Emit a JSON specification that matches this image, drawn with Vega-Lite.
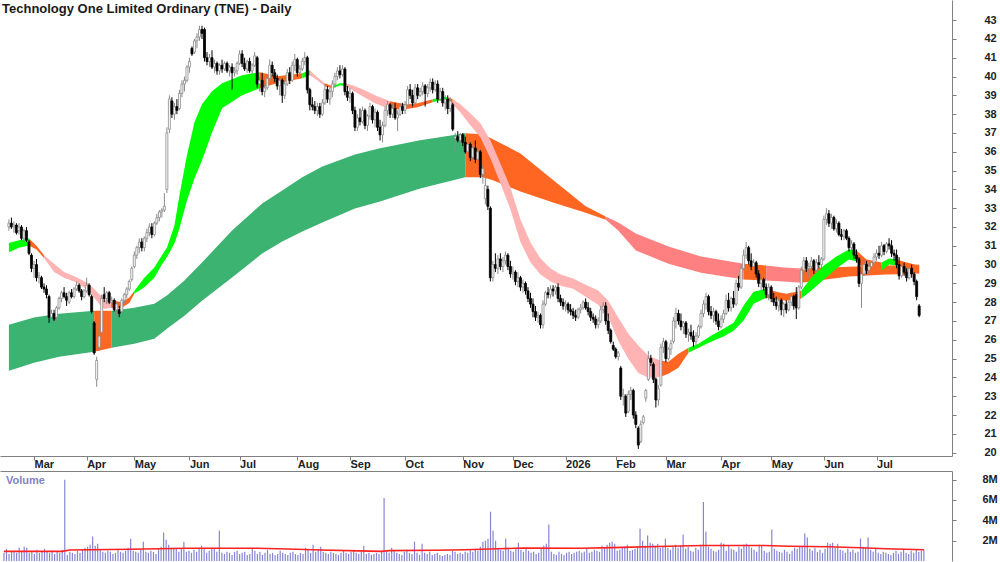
{
"$schema":"https://vega.github.io/schema/vega-lite/v6.json",
"padding":0,
"spacing":15,
"bounds":"flush",
"config":{"view":{"stroke":null},"font":"Liberation Sans","axis":{"labelFont":"Liberation Sans","labelFontSize":11,"labelFontWeight":"bold","labelColor":"#222222","domainColor":"#808080","tickColor":"#808080","grid":false}},
"datasets":{
"candles":[
{"i":0,"o":32.0,"h":32.4,"l":31.8,"c":32.2,"v":0.8},{"i":1,"o":32.2,"h":32.5,"l":31.9,"c":32.0,"v":1.2},{"i":2,"o":32.0,"h":32.3,"l":31.7,"c":32.1,"v":0.7},{"i":3,"o":32.1,"h":32.2,"l":31.6,"c":31.7,"v":0.9},{"i":4,"o":31.8,"h":32.2,"l":31.6,"c":32.0,"v":1.0},
{"i":5,"o":32.0,"h":32.1,"l":31.3,"c":31.4,"v":0.8},{"i":6,"o":31.4,"h":31.9,"l":31.2,"c":31.8,"v":1.3},{"i":7,"o":31.8,"h":32.0,"l":31.2,"c":31.3,"v":0.9},{"i":8,"o":31.2,"h":31.3,"l":30.5,"c":30.6,"v":1.4},{"i":9,"o":30.5,"h":30.6,"l":29.6,"c":29.8,"v":1.3},
{"i":10,"o":29.8,"h":30.2,"l":29.3,"c":30.0,"v":0.8},{"i":11,"o":30.0,"h":30.3,"l":29.1,"c":29.3,"v":1.0},{"i":12,"o":29.3,"h":29.6,"l":29.0,"c":29.4,"v":0.7},{"i":13,"o":29.3,"h":29.4,"l":28.7,"c":28.8,"v":1.1},{"i":14,"o":28.8,"h":29.0,"l":28.5,"c":28.7,"v":0.8},
{"i":15,"o":28.7,"h":28.9,"l":28.2,"c":28.4,"v":0.9},{"i":16,"o":28.3,"h":28.4,"l":26.9,"c":27.2,"v":1.2},{"i":17,"o":27.2,"h":27.6,"l":26.9,"c":27.4,"v":0.9},{"i":18,"o":27.4,"h":27.6,"l":27.0,"c":27.1,"v":0.8},{"i":19,"o":27.2,"h":27.8,"l":27.0,"c":27.7,"v":1.0},
{"i":20,"o":27.7,"h":28.3,"l":27.6,"c":28.2,"v":0.7},{"i":21,"o":28.2,"h":28.6,"l":28.0,"c":28.5,"v":0.9},{"i":22,"o":28.5,"h":28.8,"l":28.2,"c":28.3,"v":0.8},{"i":23,"o":28.3,"h":28.5,"l":27.8,"c":28.1,"v":1.1},{"i":24,"o":28.0,"h":28.6,"l":27.9,"c":28.5,"v":8.0},
{"i":25,"o":28.5,"h":28.7,"l":28.2,"c":28.3,"v":0.6},{"i":26,"o":28.3,"h":28.8,"l":28.2,"c":28.7,"v":0.9},{"i":27,"o":28.7,"h":29.1,"l":28.6,"c":28.9,"v":0.8},{"i":28,"o":28.9,"h":29.0,"l":28.5,"c":28.6,"v":0.7},{"i":29,"o":28.6,"h":28.7,"l":28.1,"c":28.3,"v":1.0},
{"i":30,"o":28.3,"h":28.7,"l":28.2,"c":28.6,"v":0.8},{"i":31,"o":28.6,"h":29.3,"l":28.5,"c":28.9,"v":1.1},{"i":32,"o":28.9,"h":29.0,"l":28.3,"c":28.4,"v":1.3},{"i":33,"o":28.3,"h":28.4,"l":27.4,"c":27.5,"v":1.4},{"i":34,"o":26.9,"h":27.0,"l":25.2,"c":25.3,"v":1.6},
{"i":35,"o":23.9,"h":25.1,"l":23.5,"c":24.9,"v":2.4},{"i":36,"o":25.6,"h":26.9,"l":25.4,"c":26.2,"v":1.5},{"i":37,"o":26.4,"h":28.4,"l":26.2,"c":28.2,"v":1.7},{"i":38,"o":28.4,"h":28.8,"l":28.0,"c":28.2,"v":1.1},{"i":39,"o":28.2,"h":28.6,"l":27.9,"c":28.5,"v":0.9},
{"i":40,"o":28.5,"h":28.6,"l":27.9,"c":28.0,"v":0.8},{"i":41,"o":28.0,"h":28.3,"l":27.7,"c":28.1,"v":1.0},{"i":42,"o":28.1,"h":28.2,"l":27.5,"c":27.6,"v":0.9},{"i":43,"o":27.6,"h":28.0,"l":27.3,"c":27.9,"v":0.7},{"i":44,"o":27.6,"h":27.8,"l":27.2,"c":27.4,"v":0.8},
{"i":45,"o":27.5,"h":28.2,"l":27.4,"c":28.1,"v":1.2},{"i":46,"o":28.1,"h":28.5,"l":27.9,"c":28.4,"v":0.9},{"i":47,"o":28.4,"h":28.8,"l":28.2,"c":28.7,"v":0.8},{"i":48,"o":28.7,"h":29.2,"l":28.6,"c":29.1,"v":1.0},{"i":49,"o":29.2,"h":29.9,"l":29.1,"c":29.8,"v":1.3},
{"i":50,"o":29.9,"h":30.7,"l":29.8,"c":30.5,"v":2.2},{"i":51,"o":30.5,"h":31.0,"l":30.3,"c":30.9,"v":1.0},{"i":52,"o":30.9,"h":31.4,"l":30.6,"c":31.2,"v":0.9},{"i":53,"o":31.2,"h":31.4,"l":30.7,"c":30.9,"v":0.8},{"i":54,"o":30.9,"h":31.5,"l":30.7,"c":31.4,"v":1.1},
{"i":55,"o":31.4,"h":31.9,"l":31.2,"c":31.7,"v":1.9},{"i":56,"o":31.7,"h":32.2,"l":31.5,"c":32.0,"v":0.9},{"i":57,"o":32.0,"h":32.2,"l":31.4,"c":31.6,"v":0.8},{"i":58,"o":31.6,"h":32.3,"l":31.5,"c":32.2,"v":1.0},{"i":59,"o":32.2,"h":32.7,"l":32.1,"c":32.5,"v":0.9},
{"i":60,"o":32.5,"h":32.9,"l":32.3,"c":32.8,"v":0.7},{"i":61,"o":32.8,"h":33.0,"l":32.5,"c":32.9,"v":1.2},{"i":62,"o":32.9,"h":33.8,"l":32.8,"c":33.1,"v":1.4},{"i":63,"o":34.0,"h":37.3,"l":33.8,"c":37.0,"v":2.8},{"i":64,"o":37.2,"h":39.0,"l":37.0,"c":38.8,"v":2.1},
{"i":65,"o":38.7,"h":38.9,"l":37.8,"c":38.0,"v":1.6},{"i":66,"o":38.0,"h":38.6,"l":37.7,"c":38.4,"v":1.3},{"i":67,"o":38.4,"h":38.8,"l":38.0,"c":38.2,"v":1.3},{"i":68,"o":38.3,"h":39.3,"l":38.2,"c":39.1,"v":1.3},{"i":69,"o":39.1,"h":39.8,"l":38.9,"c":39.6,"v":0.9},
{"i":70,"o":39.6,"h":40.0,"l":39.2,"c":39.8,"v":1.2},{"i":71,"o":39.8,"h":40.6,"l":39.7,"c":40.5,"v":1.9},{"i":72,"o":40.5,"h":41.0,"l":40.2,"c":40.8,"v":0.9},{"i":73,"o":41.5,"h":41.6,"l":41.1,"c":41.2,"v":1.0},{"i":74,"o":41.3,"h":42.0,"l":41.2,"c":41.9,"v":0.8},
{"i":75,"o":41.9,"h":42.3,"l":41.5,"c":42.1,"v":1.1},{"i":76,"o":42.1,"h":42.7,"l":41.9,"c":42.5,"v":0.9},{"i":77,"o":42.5,"h":42.7,"l":42.0,"c":42.3,"v":1.2},{"i":78,"o":42.5,"h":42.6,"l":40.8,"c":41.0,"v":1.5},{"i":79,"o":41.0,"h":41.3,"l":40.6,"c":40.8,"v":1.3},
{"i":80,"o":40.8,"h":41.2,"l":40.5,"c":41.0,"v":0.8},{"i":81,"o":41.0,"h":41.4,"l":40.4,"c":40.5,"v":1.0},{"i":82,"o":40.5,"h":40.9,"l":40.2,"c":40.7,"v":1.3},{"i":83,"o":40.7,"h":40.8,"l":40.1,"c":40.3,"v":1.3},{"i":84,"o":40.3,"h":40.7,"l":40.1,"c":40.6,"v":0.9},
{"i":85,"o":40.6,"h":40.9,"l":40.2,"c":40.4,"v":3.0},{"i":86,"o":40.4,"h":40.8,"l":40.3,"c":40.7,"v":0.8},{"i":87,"o":40.7,"h":40.8,"l":40.2,"c":40.3,"v":0.7},{"i":88,"o":40.3,"h":40.6,"l":40.0,"c":40.5,"v":0.9},{"i":89,"o":40.5,"h":40.7,"l":39.3,"c":40.2,"v":0.8},
{"i":90,"o":40.2,"h":40.5,"l":40.0,"c":40.3,"v":0.6},{"i":91,"o":40.3,"h":40.8,"l":40.1,"c":40.7,"v":0.9},{"i":92,"o":40.7,"h":41.4,"l":40.6,"c":41.2,"v":1.0},{"i":93,"o":41.2,"h":41.4,"l":40.5,"c":40.7,"v":0.7},{"i":94,"o":40.7,"h":41.0,"l":40.3,"c":40.4,"v":0.8},
{"i":95,"o":40.4,"h":40.9,"l":40.2,"c":40.8,"v":0.9},{"i":96,"o":40.8,"h":41.0,"l":40.2,"c":40.3,"v":0.6},{"i":97,"o":40.3,"h":40.7,"l":40.1,"c":40.6,"v":0.7},{"i":98,"o":40.6,"h":41.3,"l":40.5,"c":41.1,"v":1.2},{"i":99,"o":41.0,"h":41.1,"l":39.4,"c":39.6,"v":1.0},
{"i":100,"o":39.6,"h":40.0,"l":39.2,"c":39.8,"v":0.7},{"i":101,"o":39.8,"h":40.2,"l":39.0,"c":39.2,"v":0.9},{"i":102,"o":39.2,"h":39.6,"l":38.9,"c":39.4,"v":0.6},{"i":103,"o":39.4,"h":40.0,"l":39.3,"c":39.9,"v":0.8},{"i":104,"o":39.9,"h":40.9,"l":39.8,"c":40.6,"v":1.1},
{"i":105,"o":40.6,"h":40.8,"l":40.0,"c":40.2,"v":0.7},{"i":106,"o":40.2,"h":40.4,"l":39.7,"c":39.9,"v":0.8},{"i":107,"o":39.9,"h":40.1,"l":39.3,"c":39.5,"v":0.6},{"i":108,"o":39.5,"h":40.0,"l":39.0,"c":39.8,"v":0.7},{"i":109,"o":39.8,"h":39.9,"l":38.6,"c":39.0,"v":1.0},
{"i":110,"o":39.0,"h":39.8,"l":38.8,"c":39.6,"v":0.8},{"i":111,"o":39.6,"h":40.4,"l":39.5,"c":40.2,"v":0.7},{"i":112,"o":40.2,"h":40.5,"l":39.6,"c":39.8,"v":0.6},{"i":113,"o":39.8,"h":40.8,"l":39.7,"c":40.6,"v":0.8},{"i":114,"o":40.6,"h":41.2,"l":40.3,"c":40.9,"v":0.9},
{"i":115,"o":40.9,"h":41.0,"l":40.0,"c":40.2,"v":0.7},{"i":116,"o":40.2,"h":40.6,"l":39.9,"c":40.4,"v":0.6},{"i":117,"o":40.4,"h":41.0,"l":40.3,"c":40.8,"v":0.8},{"i":118,"o":40.8,"h":41.3,"l":40.6,"c":41.0,"v":0.7},{"i":119,"o":41.0,"h":41.1,"l":39.1,"c":39.3,"v":1.3},
{"i":120,"o":39.3,"h":39.4,"l":38.2,"c":38.5,"v":1.1},{"i":121,"o":38.5,"h":38.9,"l":38.2,"c":38.4,"v":0.8},{"i":122,"o":38.4,"h":38.7,"l":38.0,"c":38.2,"v":1.6},{"i":123,"o":38.2,"h":38.6,"l":37.9,"c":38.4,"v":0.9},{"i":124,"o":38.4,"h":38.6,"l":37.8,"c":38.0,"v":1.2},
{"i":125,"o":38.0,"h":38.8,"l":37.9,"c":38.6,"v":1.4},{"i":126,"o":38.6,"h":39.6,"l":38.5,"c":39.3,"v":0.9},{"i":127,"o":39.3,"h":39.5,"l":38.6,"c":38.8,"v":0.8},{"i":128,"o":38.8,"h":39.4,"l":38.5,"c":39.2,"v":0.7},{"i":129,"o":39.2,"h":39.8,"l":38.9,"c":39.6,"v":0.9},
{"i":130,"o":39.6,"h":40.2,"l":39.4,"c":40.0,"v":0.8},{"i":131,"o":40.0,"h":40.5,"l":39.8,"c":40.3,"v":0.7},{"i":132,"o":40.3,"h":40.6,"l":39.9,"c":40.1,"v":0.6},{"i":133,"o":40.1,"h":40.6,"l":40.0,"c":40.4,"v":0.8},{"i":134,"o":40.4,"h":40.5,"l":39.0,"c":39.2,"v":1.0},
{"i":135,"o":39.2,"h":39.5,"l":38.7,"c":38.9,"v":0.8},{"i":136,"o":38.9,"h":39.4,"l":38.6,"c":39.1,"v":0.7},{"i":137,"o":39.1,"h":39.2,"l":38.0,"c":38.2,"v":0.9},{"i":138,"o":38.2,"h":38.4,"l":37.1,"c":37.3,"v":1.0},{"i":139,"o":37.3,"h":38.0,"l":37.1,"c":37.8,"v":0.8},
{"i":140,"o":37.8,"h":38.3,"l":37.4,"c":37.6,"v":0.7},{"i":141,"o":37.6,"h":38.4,"l":37.5,"c":38.2,"v":0.9},{"i":142,"o":38.2,"h":38.3,"l":37.2,"c":37.4,"v":1.5},{"i":143,"o":37.4,"h":38.0,"l":37.1,"c":37.9,"v":0.7},{"i":144,"o":37.9,"h":38.6,"l":37.7,"c":38.4,"v":0.8},
{"i":145,"o":38.4,"h":38.5,"l":37.5,"c":37.7,"v":0.6},{"i":146,"o":37.7,"h":38.3,"l":37.3,"c":38.1,"v":0.7},{"i":147,"o":38.1,"h":38.2,"l":37.1,"c":37.3,"v":0.8},{"i":148,"o":37.3,"h":37.7,"l":36.6,"c":36.9,"v":0.7},{"i":149,"o":36.9,"h":37.6,"l":36.5,"c":37.4,"v":0.9},
{"i":150,"o":37.4,"h":38.4,"l":37.3,"c":38.2,"v":6.2},{"i":151,"o":38.2,"h":38.7,"l":37.9,"c":38.5,"v":0.9},{"i":152,"o":38.5,"h":38.6,"l":37.8,"c":38.0,"v":0.8},{"i":153,"o":38.0,"h":38.5,"l":37.8,"c":38.3,"v":1.3},{"i":154,"o":38.3,"h":38.6,"l":37.7,"c":37.8,"v":1.1},
{"i":155,"o":37.8,"h":38.2,"l":37.1,"c":38.0,"v":0.8},{"i":156,"o":38.0,"h":38.6,"l":37.9,"c":38.4,"v":0.7},{"i":157,"o":38.4,"h":38.6,"l":38.0,"c":38.2,"v":0.6},{"i":158,"o":38.2,"h":38.7,"l":38.0,"c":38.5,"v":0.9},{"i":159,"o":38.5,"h":39.5,"l":38.4,"c":39.3,"v":1.1},
{"i":160,"o":39.3,"h":39.6,"l":38.8,"c":39.0,"v":0.8},{"i":161,"o":39.0,"h":39.3,"l":38.4,"c":38.6,"v":0.7},{"i":162,"o":38.6,"h":39.6,"l":38.5,"c":39.4,"v":1.9},{"i":163,"o":39.4,"h":39.6,"l":38.8,"c":39.0,"v":0.8},{"i":164,"o":39.0,"h":39.4,"l":38.9,"c":39.2,"v":0.6},
{"i":165,"o":39.2,"h":39.7,"l":39.0,"c":39.5,"v":1.7},{"i":166,"o":39.5,"h":39.6,"l":38.4,"c":39.1,"v":0.8},{"i":167,"o":39.1,"h":39.6,"l":38.9,"c":39.4,"v":0.7},{"i":168,"o":39.4,"h":39.9,"l":39.2,"c":39.7,"v":0.9},{"i":169,"o":39.7,"h":39.9,"l":39.1,"c":39.3,"v":0.6},
{"i":170,"o":39.3,"h":39.8,"l":39.2,"c":39.6,"v":0.7},{"i":171,"o":39.6,"h":39.8,"l":38.6,"c":38.8,"v":0.8},{"i":172,"o":38.8,"h":39.4,"l":38.7,"c":39.2,"v":0.6},{"i":173,"o":39.2,"h":39.4,"l":38.4,"c":38.6,"v":0.5},{"i":174,"o":38.6,"h":39.0,"l":38.2,"c":38.8,"v":0.6},
{"i":175,"o":38.8,"h":39.0,"l":38.0,"c":38.3,"v":0.7},{"i":176,"o":38.3,"h":38.9,"l":38.1,"c":38.7,"v":0.6},{"i":177,"o":38.5,"h":38.6,"l":37.1,"c":37.2,"v":1.0},{"i":178,"o":36.7,"h":37.0,"l":36.0,"c":36.8,"v":0.9},{"i":179,"o":36.8,"h":37.1,"l":36.5,"c":36.6,"v":0.7},
{"i":180,"o":36.6,"h":37.0,"l":36.4,"c":36.9,"v":0.8},{"i":181,"o":36.9,"h":37.0,"l":36.3,"c":36.5,"v":0.7},{"i":182,"o":36.5,"h":36.8,"l":35.9,"c":36.0,"v":0.9},{"i":183,"o":36.0,"h":36.6,"l":35.8,"c":36.4,"v":0.8},{"i":184,"o":36.4,"h":36.5,"l":35.5,"c":35.7,"v":1.1},
{"i":185,"o":35.7,"h":36.3,"l":35.6,"c":36.2,"v":0.9},{"i":186,"o":36.2,"h":36.6,"l":35.4,"c":35.6,"v":1.2},{"i":187,"o":35.6,"h":36.2,"l":35.5,"c":36.0,"v":1.0},{"i":188,"o":36.0,"h":36.1,"l":34.6,"c":34.8,"v":1.4},{"i":189,"o":34.8,"h":35.3,"l":34.3,"c":35.1,"v":1.9},
{"i":190,"o":33.5,"h":35.0,"l":33.2,"c":34.2,"v":2.0},{"i":191,"o":34.0,"h":34.2,"l":32.9,"c":33.1,"v":2.2},{"i":192,"o":33.0,"h":33.1,"l":29.1,"c":29.3,"v":4.85},{"i":193,"o":29.3,"h":30.2,"l":29.1,"c":30.0,"v":3.0},{"i":194,"o":30.0,"h":30.6,"l":29.6,"c":29.8,"v":2.0},
{"i":195,"o":29.8,"h":30.5,"l":29.5,"c":30.3,"v":1.3},{"i":196,"o":30.3,"h":30.6,"l":29.7,"c":29.9,"v":1.1},{"i":197,"o":29.9,"h":30.4,"l":29.6,"c":30.2,"v":1.0},{"i":198,"o":30.2,"h":30.7,"l":30.0,"c":30.5,"v":2.2},{"i":199,"o":30.5,"h":30.6,"l":29.7,"c":29.9,"v":1.2},
{"i":200,"o":29.9,"h":30.2,"l":29.3,"c":29.5,"v":1.0},{"i":201,"o":29.5,"h":29.9,"l":29.2,"c":29.6,"v":0.9},{"i":202,"o":29.6,"h":29.7,"l":28.9,"c":29.1,"v":1.3},{"i":203,"o":29.1,"h":29.6,"l":28.8,"c":29.3,"v":1.8},{"i":204,"o":29.3,"h":29.4,"l":28.6,"c":28.8,"v":1.1},
{"i":205,"o":28.8,"h":29.2,"l":28.5,"c":29.0,"v":0.9},{"i":206,"o":29.0,"h":29.1,"l":28.4,"c":28.6,"v":1.2},{"i":207,"o":28.6,"h":28.8,"l":28.0,"c":28.2,"v":1.0},{"i":208,"o":28.2,"h":28.5,"l":27.7,"c":27.9,"v":0.8},{"i":209,"o":27.9,"h":28.2,"l":27.2,"c":27.5,"v":0.9},
{"i":210,"o":27.5,"h":27.8,"l":27.0,"c":27.2,"v":0.7},{"i":211,"o":27.2,"h":27.5,"l":26.9,"c":27.3,"v":0.8},{"i":212,"o":27.3,"h":27.4,"l":26.6,"c":26.8,"v":1.2},{"i":213,"o":26.8,"h":28.1,"l":26.6,"c":27.9,"v":1.5},{"i":214,"o":27.9,"h":28.6,"l":27.8,"c":28.5,"v":1.7},
{"i":215,"o":28.5,"h":28.8,"l":28.2,"c":28.4,"v":3.6},{"i":216,"o":28.4,"h":28.9,"l":28.2,"c":28.7,"v":0.9},{"i":217,"o":28.7,"h":28.9,"l":28.3,"c":28.6,"v":0.7},{"i":218,"o":28.6,"h":28.9,"l":28.4,"c":28.8,"v":0.6},{"i":219,"o":28.8,"h":29.0,"l":28.0,"c":28.2,"v":0.9},
{"i":220,"o":28.2,"h":28.4,"l":27.8,"c":28.0,"v":0.7},{"i":221,"o":28.0,"h":28.2,"l":27.6,"c":27.8,"v":0.6},{"i":222,"o":27.8,"h":28.1,"l":27.5,"c":27.9,"v":0.8},{"i":223,"o":27.9,"h":28.0,"l":27.4,"c":27.6,"v":0.9},{"i":224,"o":27.6,"h":27.9,"l":27.3,"c":27.5,"v":0.7},
{"i":225,"o":27.5,"h":27.7,"l":27.1,"c":27.3,"v":0.8},{"i":226,"o":27.3,"h":27.6,"l":27.0,"c":27.2,"v":0.9},{"i":227,"o":27.2,"h":27.7,"l":27.1,"c":27.6,"v":1.0},{"i":228,"o":27.6,"h":27.9,"l":27.4,"c":27.7,"v":0.8},{"i":229,"o":27.7,"h":28.1,"l":27.6,"c":28.0,"v":0.9},
{"i":230,"o":28.0,"h":28.2,"l":27.6,"c":27.7,"v":1.2},{"i":231,"o":27.7,"h":28.0,"l":27.3,"c":27.5,"v":0.8},{"i":232,"o":27.5,"h":27.7,"l":27.0,"c":27.2,"v":0.9},{"i":233,"o":27.2,"h":27.4,"l":26.9,"c":27.1,"v":1.1},{"i":234,"o":27.1,"h":27.3,"l":26.6,"c":26.8,"v":1.0},
{"i":235,"o":26.8,"h":27.2,"l":26.6,"c":27.0,"v":0.9},{"i":236,"o":27.0,"h":27.8,"l":26.9,"c":27.6,"v":1.5},{"i":237,"o":27.6,"h":28.0,"l":27.4,"c":27.8,"v":1.3},{"i":238,"o":27.8,"h":28.0,"l":26.8,"c":27.0,"v":1.6},{"i":239,"o":27.0,"h":27.4,"l":26.3,"c":26.5,"v":1.8},
{"i":240,"o":26.5,"h":26.6,"l":25.8,"c":25.9,"v":1.9},{"i":241,"o":25.7,"h":25.9,"l":25.4,"c":25.5,"v":1.7},{"i":242,"o":25.5,"h":25.6,"l":25.0,"c":25.1,"v":1.0},{"i":243,"o":25.1,"h":25.4,"l":24.9,"c":25.3,"v":1.1},{"i":244,"o":24.5,"h":24.6,"l":22.8,"c":23.0,"v":1.3},
{"i":245,"o":23.0,"h":23.4,"l":22.5,"c":23.1,"v":1.4},{"i":246,"o":23.0,"h":23.1,"l":21.9,"c":22.1,"v":1.6},{"i":247,"o":22.2,"h":23.3,"l":22.1,"c":23.1,"v":1.0},{"i":248,"o":23.1,"h":23.5,"l":22.8,"c":23.3,"v":1.1},{"i":249,"o":23.3,"h":23.4,"l":21.8,"c":22.0,"v":1.2},
{"i":250,"o":22.0,"h":22.2,"l":21.3,"c":21.5,"v":1.4},{"i":251,"o":21.3,"h":21.4,"l":20.2,"c":20.4,"v":3.2},{"i":252,"o":20.6,"h":21.7,"l":20.5,"c":21.5,"v":2.0},{"i":253,"o":21.6,"h":22.0,"l":21.5,"c":21.9,"v":1.5},{"i":254,"o":22.9,"h":23.4,"l":22.7,"c":23.3,"v":2.5},
{"i":255,"o":23.9,"h":25.4,"l":23.8,"c":25.0,"v":1.8},{"i":256,"o":25.0,"h":25.2,"l":24.6,"c":24.8,"v":1.7},{"i":257,"o":24.7,"h":24.8,"l":23.7,"c":23.9,"v":1.5},{"i":258,"o":23.9,"h":24.0,"l":22.4,"c":22.8,"v":1.7},{"i":259,"o":22.8,"h":23.6,"l":22.5,"c":23.4,"v":1.3},
{"i":260,"o":23.6,"h":25.8,"l":23.5,"c":25.6,"v":1.4},{"i":261,"o":25.6,"h":26.1,"l":25.3,"c":25.9,"v":2.2},{"i":262,"o":25.9,"h":26.0,"l":24.8,"c":25.0,"v":1.3},{"i":263,"o":25.0,"h":25.6,"l":24.9,"c":25.5,"v":1.1},{"i":264,"o":25.5,"h":26.0,"l":25.2,"c":25.8,"v":1.4},
{"i":265,"o":25.9,"h":27.2,"l":25.8,"c":27.0,"v":1.6},{"i":266,"o":27.0,"h":27.7,"l":26.6,"c":27.4,"v":1.3},{"i":267,"o":27.4,"h":27.6,"l":26.8,"c":27.0,"v":1.5},{"i":268,"o":27.0,"h":27.4,"l":26.5,"c":26.7,"v":2.6},{"i":269,"o":26.7,"h":27.0,"l":26.3,"c":26.9,"v":1.2},
{"i":270,"o":26.9,"h":27.0,"l":26.1,"c":26.3,"v":1.4},{"i":271,"o":26.3,"h":26.6,"l":25.9,"c":26.4,"v":1.0},{"i":272,"o":26.4,"h":26.8,"l":26.0,"c":26.2,"v":0.9},{"i":273,"o":26.2,"h":26.5,"l":25.6,"c":25.9,"v":1.3},{"i":274,"o":25.9,"h":26.4,"l":25.7,"c":26.2,"v":1.1},
{"i":275,"o":26.2,"h":26.8,"l":26.1,"c":26.7,"v":1.6},{"i":276,"o":26.7,"h":27.6,"l":26.6,"c":27.4,"v":5.8},{"i":277,"o":27.4,"h":28.1,"l":27.2,"c":27.9,"v":2.9},{"i":278,"o":27.9,"h":28.5,"l":27.6,"c":28.3,"v":1.4},{"i":279,"o":28.3,"h":28.4,"l":27.3,"c":27.5,"v":1.2},
{"i":280,"o":27.5,"h":27.8,"l":27.1,"c":27.3,"v":1.0},{"i":281,"o":27.3,"h":27.7,"l":26.9,"c":27.5,"v":0.9},{"i":282,"o":27.5,"h":27.6,"l":26.8,"c":27.0,"v":1.1},{"i":283,"o":27.0,"h":27.4,"l":26.5,"c":26.7,"v":1.8},{"i":284,"o":26.7,"h":27.3,"l":26.6,"c":27.1,"v":1.7},
{"i":285,"o":27.1,"h":27.6,"l":26.9,"c":27.4,"v":1.0},{"i":286,"o":27.4,"h":28.4,"l":27.3,"c":28.1,"v":1.5},{"i":287,"o":28.1,"h":28.5,"l":27.5,"c":27.7,"v":1.2},{"i":288,"o":27.7,"h":28.3,"l":27.5,"c":28.2,"v":1.1},{"i":289,"o":28.2,"h":28.6,"l":27.7,"c":27.9,"v":0.9},
{"i":290,"o":27.9,"h":29.2,"l":27.8,"c":29.0,"v":1.4},{"i":291,"o":29.0,"h":29.4,"l":28.6,"c":28.8,"v":1.2},{"i":292,"o":28.8,"h":30.0,"l":28.7,"c":29.8,"v":1.6},{"i":293,"o":29.8,"h":30.8,"l":29.7,"c":30.5,"v":1.7},{"i":294,"o":30.5,"h":31.2,"l":30.3,"c":30.9,"v":1.5},
{"i":295,"o":30.9,"h":31.0,"l":30.0,"c":30.2,"v":1.3},{"i":296,"o":30.2,"h":30.6,"l":29.7,"c":29.9,"v":1.1},{"i":297,"o":29.9,"h":30.3,"l":29.6,"c":30.1,"v":0.9},{"i":298,"o":30.1,"h":30.2,"l":29.3,"c":29.5,"v":1.6},{"i":299,"o":29.5,"h":29.7,"l":28.8,"c":29.0,"v":1.5},
{"i":300,"o":29.0,"h":29.5,"l":28.6,"c":29.2,"v":1.0},{"i":301,"o":29.2,"h":29.3,"l":28.6,"c":28.8,"v":0.8},{"i":302,"o":28.8,"h":29.0,"l":28.2,"c":28.4,"v":0.9},{"i":303,"o":28.4,"h":29.0,"l":28.1,"c":28.8,"v":3.1},{"i":304,"o":28.8,"h":28.9,"l":28.0,"c":28.2,"v":1.2},
{"i":305,"o":28.2,"h":28.5,"l":27.8,"c":28.0,"v":1.0},{"i":306,"o":28.0,"h":28.3,"l":27.6,"c":27.8,"v":0.9},{"i":307,"o":27.8,"h":28.2,"l":27.5,"c":28.1,"v":0.8},{"i":308,"o":28.1,"h":28.2,"l":27.3,"c":27.6,"v":1.1},{"i":309,"o":27.6,"h":28.0,"l":27.2,"c":27.9,"v":0.9},
{"i":310,"o":27.9,"h":28.1,"l":27.4,"c":27.6,"v":0.7},{"i":311,"o":27.6,"h":28.1,"l":27.5,"c":28.0,"v":1.0},{"i":312,"o":28.0,"h":28.5,"l":27.8,"c":28.3,"v":1.3},{"i":313,"o":28.3,"h":28.4,"l":27.6,"c":27.8,"v":1.2},{"i":314,"o":28.4,"h":28.8,"l":27.1,"c":27.7,"v":1.4},
{"i":315,"o":27.7,"h":28.9,"l":27.6,"c":28.8,"v":1.5},{"i":316,"o":28.8,"h":29.9,"l":28.7,"c":29.7,"v":2.7},{"i":317,"o":29.7,"h":30.4,"l":29.5,"c":30.2,"v":2.3},{"i":318,"o":30.2,"h":30.4,"l":29.6,"c":29.8,"v":1.2},{"i":319,"o":29.8,"h":30.1,"l":29.3,"c":29.9,"v":1.0},
{"i":320,"o":29.9,"h":30.4,"l":29.7,"c":30.2,"v":1.3},{"i":321,"o":30.2,"h":30.3,"l":29.5,"c":29.7,"v":0.9},{"i":322,"o":29.7,"h":30.3,"l":29.6,"c":30.1,"v":1.1},{"i":323,"o":30.1,"h":30.5,"l":29.8,"c":30.0,"v":0.8},{"i":324,"o":30.0,"h":30.4,"l":29.7,"c":30.3,"v":1.2},
{"i":325,"o":30.3,"h":32.6,"l":30.2,"c":32.4,"v":1.8},{"i":326,"o":32.4,"h":33.0,"l":32.1,"c":32.7,"v":1.7},{"i":327,"o":32.7,"h":32.9,"l":32.0,"c":32.2,"v":1.8},{"i":328,"o":32.2,"h":32.7,"l":31.9,"c":32.5,"v":1.3},{"i":329,"o":32.5,"h":32.6,"l":31.8,"c":31.9,"v":1.7},
{"i":330,"o":31.9,"h":32.4,"l":31.7,"c":32.2,"v":1.1},{"i":331,"o":32.2,"h":32.3,"l":31.5,"c":31.6,"v":1.0},{"i":332,"o":31.6,"h":31.9,"l":31.3,"c":31.5,"v":0.8},{"i":333,"o":31.5,"h":31.9,"l":31.3,"c":31.8,"v":1.2},{"i":334,"o":31.8,"h":31.9,"l":31.3,"c":31.4,"v":0.9},
{"i":335,"o":31.4,"h":31.5,"l":30.7,"c":30.9,"v":1.1},{"i":336,"o":30.9,"h":31.3,"l":30.6,"c":31.1,"v":0.8},{"i":337,"o":31.1,"h":31.2,"l":30.3,"c":30.5,"v":0.9},{"i":338,"o":30.5,"h":30.8,"l":30.1,"c":30.3,"v":2.2},{"i":339,"o":30.3,"h":30.4,"l":28.8,"c":29.0,"v":1.4},
{"i":340,"o":29.0,"h":29.8,"l":27.7,"c":29.5,"v":1.3},{"i":341,"o":29.5,"h":30.2,"l":29.4,"c":30.0,"v":2.3},{"i":342,"o":30.0,"h":30.2,"l":29.5,"c":29.7,"v":1.1},{"i":343,"o":29.7,"h":30.1,"l":29.5,"c":29.9,"v":0.9},{"i":344,"o":29.9,"h":30.2,"l":29.6,"c":30.1,"v":1.3},
{"i":345,"o":30.1,"h":30.6,"l":30.0,"c":30.4,"v":0.8},{"i":346,"o":30.4,"h":30.8,"l":30.2,"c":30.6,"v":0.7},{"i":347,"o":30.6,"h":31.0,"l":30.3,"c":30.5,"v":0.9},{"i":348,"o":30.5,"h":31.2,"l":30.4,"c":31.0,"v":0.8},{"i":349,"o":31.0,"h":31.1,"l":30.5,"c":30.7,"v":0.7},
{"i":350,"o":30.7,"h":31.2,"l":30.6,"c":31.1,"v":0.6},{"i":351,"o":31.1,"h":31.4,"l":30.8,"c":31.0,"v":0.8},{"i":352,"o":31.0,"h":31.3,"l":30.4,"c":30.6,"v":1.0},{"i":353,"o":30.6,"h":30.8,"l":30.2,"c":30.5,"v":0.7},{"i":354,"o":30.5,"h":30.8,"l":29.8,"c":30.0,"v":0.9},
{"i":355,"o":30.0,"h":30.4,"l":29.2,"c":29.4,"v":1.2},{"i":356,"o":29.4,"h":30.0,"l":29.3,"c":29.9,"v":0.8},{"i":357,"o":29.9,"h":30.1,"l":29.4,"c":29.6,"v":0.7},{"i":358,"o":29.6,"h":29.8,"l":29.1,"c":29.3,"v":1.0},{"i":359,"o":29.3,"h":29.9,"l":29.2,"c":29.8,"v":0.8},
{"i":360,"o":29.8,"h":30.0,"l":29.3,"c":29.5,"v":1.1},{"i":361,"o":29.5,"h":29.6,"l":28.9,"c":29.1,"v":0.9},{"i":362,"o":29.1,"h":29.2,"l":28.1,"c":28.3,"v":1.0},{"i":363,"o":27.8,"h":27.9,"l":27.2,"c":27.3,"v":1.1}
],
"bands":[
{"b":"L","g":"L1","s":"Lup","i":0,"t":26.8,"u":24.35},{"b":"L","g":"L1","s":"Lup","i":10,"t":27.18,"u":24.78},{"b":"L","g":"L1","s":"Lup","i":20,"t":27.39,"u":25.1},{"b":"L","g":"L1","s":"Lup","i":34,"t":27.55,"u":25.36},
{"b":"L","g":"L2","s":"Lmix","i":34,"t":27.55,"u":25.36},{"b":"L","g":"L2","s":"Lmix","i":41,"t":27.55,"u":25.58},
{"b":"L","g":"L3","s":"Lup","i":41,"t":27.55,"u":25.58},{"b":"L","g":"L3","s":"Lup","i":50,"t":27.71,"u":25.79},{"b":"L","g":"L3","s":"Lup","i":58,"t":27.92,"u":26.06},{"b":"L","g":"L3","s":"Lup","i":63,"t":28.35,"u":26.59},{"b":"L","g":"L3","s":"Lup","i":70,"t":29.15,"u":27.28},{"b":"L","g":"L3","s":"Lup","i":77,"t":30.11,"u":28.08},{"b":"L","g":"L3","s":"Lup","i":89,"t":31.81,"u":29.31},{"b":"L","g":"L3","s":"Lup","i":101,"t":33.25,"u":30.59},{"b":"L","g":"L3","s":"Lup","i":109,"t":33.94,"u":31.23},{"b":"L","g":"L3","s":"Lup","i":117,"t":34.64,"u":31.76},{"b":"L","g":"L3","s":"Lup","i":125,"t":35.22,"u":32.24},{"b":"L","g":"L3","s":"Lup","i":138,"t":35.86,"u":32.98},{"b":"L","g":"L3","s":"Lup","i":148,"t":36.18,"u":33.36},{"b":"L","g":"L3","s":"Lup","i":164,"t":36.61,"u":34.05},{"b":"L","g":"L3","s":"Lup","i":182,"t":36.98,"u":34.64},
{"b":"L","g":"L4","s":"Lmix","i":182,"t":36.98,"u":34.64},{"b":"L","g":"L4","s":"Lmix","i":189,"t":36.93,"u":34.64},{"b":"L","g":"L4","s":"Lmix","i":193,"t":36.66,"u":34.48},{"b":"L","g":"L4","s":"Lmix","i":204,"t":35.91,"u":33.89},{"b":"L","g":"L4","s":"Lmix","i":217,"t":34.5,"u":33.3},{"b":"L","g":"L4","s":"Lmix","i":230,"t":33.1,"u":32.75},{"b":"L","g":"L4","s":"Lmix","i":238,"t":32.55,"u":32.38},
{"b":"L","g":"L5","s":"Ldn","i":238,"t":32.55,"u":32.38},{"b":"L","g":"L5","s":"Ldn","i":243,"t":32.24,"u":31.81},{"b":"L","g":"L5","s":"Ldn","i":250,"t":31.65,"u":30.75},{"b":"L","g":"L5","s":"Ldn","i":263,"t":30.96,"u":30.05},{"b":"L","g":"L5","s":"Ldn","i":276,"t":30.43,"u":29.57},{"b":"L","g":"L5","s":"Ldn","i":293,"t":30.05,"u":29.2},
{"b":"L","g":"L6","s":"Lmix","i":293,"t":30.05,"u":29.2},{"b":"L","g":"L6","s":"Lmix","i":302,"t":29.95,"u":29.15},
{"b":"L","g":"L7","s":"Ldn","i":302,"t":29.95,"u":29.15},{"b":"L","g":"L7","s":"Ldn","i":309,"t":29.84,"u":29.1},{"b":"L","g":"L7","s":"Ldn","i":316,"t":29.79,"u":29.04},
{"b":"L","g":"L8","s":"Lmix","i":316,"t":29.79,"u":29.04},{"b":"L","g":"L8","s":"Lmix","i":335,"t":29.89,"u":29.36},{"b":"L","g":"L8","s":"Lmix","i":350,"t":29.95,"u":29.47},{"b":"L","g":"L8","s":"Lmix","i":360,"t":29.98,"u":29.5},
{"b":"L","g":"L9","s":"Ldn","i":360,"t":29.98,"u":29.5},{"b":"L","g":"L9","s":"Ldn","i":363,"t":30.0,"u":29.52},
{"b":"S","g":"S1","s":"Sup","i":0,"t":31.15,"u":30.66},{"b":"S","g":"S1","s":"Sup","i":4,"t":31.3,"u":30.9},{"b":"S","g":"S1","s":"Sup","i":8,"t":31.38,"u":31.02},
{"b":"S","g":"S2","s":"Smix","i":8,"t":31.38,"u":31.02},{"b":"S","g":"S2","s":"Smix","i":11,"t":31.0,"u":30.8},{"b":"S","g":"S2","s":"Smix","i":14,"t":30.5,"u":30.35},
{"b":"S","g":"S3","s":"Sdn","i":14,"t":30.5,"u":30.35},{"b":"S","g":"S3","s":"Sdn","i":18,"t":30.05,"u":29.6},{"b":"S","g":"S3","s":"Sdn","i":22,"t":29.6,"u":29.3},{"b":"S","g":"S3","s":"Sdn","i":27,"t":29.32,"u":29.05},{"b":"S","g":"S3","s":"Sdn","i":32,"t":28.97,"u":28.6},{"b":"S","g":"S3","s":"Sdn","i":36,"t":28.44,"u":27.9},{"b":"S","g":"S3","s":"Sdn","i":38,"t":28.15,"u":27.64},{"b":"S","g":"S3","s":"Sdn","i":41,"t":28.1,"u":27.7},
{"b":"S","g":"S4","s":"Smix","i":41,"t":28.1,"u":27.7},{"b":"S","g":"S4","s":"Smix","i":45,"t":28.0,"u":27.7},{"b":"S","g":"S4","s":"Smix","i":48,"t":28.25,"u":27.95},{"b":"S","g":"S4","s":"Smix","i":50,"t":28.6,"u":28.45},
{"b":"S","g":"S5","s":"Sup","i":50,"t":28.6,"u":28.45},{"b":"S","g":"S5","s":"Sup","i":54,"t":29.3,"u":28.8},{"b":"S","g":"S5","s":"Sup","i":58,"t":29.85,"u":29.3},{"b":"S","g":"S5","s":"Sup","i":61,"t":30.5,"u":30.0},{"b":"S","g":"S5","s":"Sup","i":63,"t":30.9,"u":30.39},{"b":"S","g":"S5","s":"Sup","i":66,"t":32.08,"u":31.12},{"b":"S","g":"S5","s":"Sup","i":68,"t":33.68,"u":31.92},{"b":"S","g":"S5","s":"Sup","i":71,"t":35.81,"u":33.41},{"b":"S","g":"S5","s":"Sup","i":74,"t":37.57,"u":34.58},{"b":"S","g":"S5","s":"Sup","i":77,"t":38.53,"u":35.54},{"b":"S","g":"S5","s":"Sup","i":81,"t":39.22,"u":37.03},{"b":"S","g":"S5","s":"Sup","i":85,"t":39.64,"u":38.31},{"b":"S","g":"S5","s":"Sup","i":93,"t":40.07,"u":39.0},{"b":"S","g":"S5","s":"Sup","i":100,"t":40.23,"u":39.38},
{"b":"S","g":"S6","s":"Smix","i":100,"t":40.23,"u":39.38},{"b":"S","g":"S6","s":"Smix","i":107,"t":40.02,"u":39.64},{"b":"S","g":"S6","s":"Smix","i":117,"t":40.18,"u":39.91},
{"b":"S","g":"S7","s":"Sup","i":117,"t":40.18,"u":39.91},{"b":"S","g":"S7","s":"Sup","i":120,"t":40.34,"u":40.07},
{"b":"S","g":"S8","s":"Sdn","i":120,"t":40.34,"u":40.07},{"b":"S","g":"S8","s":"Sdn","i":123,"t":39.96,"u":39.8},{"b":"S","g":"S8","s":"Sdn","i":126,"t":39.64,"u":39.48},
{"b":"S","g":"S9","s":"Smix","i":126,"t":39.64,"u":39.48},{"b":"S","g":"S9","s":"Smix","i":129,"t":39.48,"u":39.38},
{"b":"S","g":"S10","s":"Sup","i":129,"t":39.48,"u":39.38},{"b":"S","g":"S10","s":"Sup","i":132,"t":39.64,"u":39.54},{"b":"S","g":"S10","s":"Sup","i":134,"t":39.64,"u":39.48},
{"b":"S","g":"S11","s":"Sdn","i":134,"t":39.64,"u":39.48},{"b":"S","g":"S11","s":"Sdn","i":137,"t":39.54,"u":39.27},{"b":"S","g":"S11","s":"Sdn","i":141,"t":39.32,"u":38.95},{"b":"S","g":"S11","s":"Sdn","i":146,"t":39.0,"u":38.58},{"b":"S","g":"S11","s":"Sdn","i":152,"t":38.68,"u":38.26},
{"b":"S","g":"S12","s":"Smix","i":152,"t":38.68,"u":38.26},{"b":"S","g":"S12","s":"Smix","i":158,"t":38.52,"u":38.26},{"b":"S","g":"S12","s":"Smix","i":163,"t":38.58,"u":38.37},{"b":"S","g":"S12","s":"Smix","i":169,"t":38.79,"u":38.63},
{"b":"S","g":"S13","s":"Sup","i":169,"t":38.79,"u":38.63},{"b":"S","g":"S13","s":"Sup","i":172,"t":38.9,"u":38.74},{"b":"S","g":"S13","s":"Sup","i":175,"t":38.9,"u":38.68},
{"b":"S","g":"S14","s":"Smix","i":175,"t":38.9,"u":38.68},{"b":"S","g":"S14","s":"Smix","i":177,"t":38.79,"u":38.52},
{"b":"S","g":"S15","s":"Sdn","i":177,"t":38.79,"u":38.52},{"b":"S","g":"S15","s":"Sdn","i":180,"t":38.52,"u":38.1},{"b":"S","g":"S15","s":"Sdn","i":184,"t":38.05,"u":37.41},{"b":"S","g":"S15","s":"Sdn","i":188,"t":37.51,"u":36.77},{"b":"S","g":"S15","s":"Sdn","i":192,"t":36.61,"u":35.65},{"b":"S","g":"S15","s":"Sdn","i":196,"t":35.38,"u":34.32},{"b":"S","g":"S15","s":"Sdn","i":200,"t":34.1,"u":32.93},{"b":"S","g":"S15","s":"Sdn","i":204,"t":32.4,"u":31.2},{"b":"S","g":"S15","s":"Sdn","i":208,"t":31.17,"u":30.11},{"b":"S","g":"S15","s":"Sdn","i":212,"t":30.32,"u":29.47},{"b":"S","g":"S15","s":"Sdn","i":216,"t":29.79,"u":29.1},{"b":"S","g":"S15","s":"Sdn","i":220,"t":29.47,"u":28.88},{"b":"S","g":"S15","s":"Sdn","i":225,"t":29.26,"u":28.72},{"b":"S","g":"S15","s":"Sdn","i":230,"t":28.93,"u":28.29},{"b":"S","g":"S15","s":"Sdn","i":235,"t":28.62,"u":27.87},{"b":"S","g":"S15","s":"Sdn","i":239,"t":28.08,"u":27.23},{"b":"S","g":"S15","s":"Sdn","i":243,"t":27.18,"u":25.95},{"b":"S","g":"S15","s":"Sdn","i":247,"t":26.32,"u":24.99},{"b":"S","g":"S15","s":"Sdn","i":251,"t":25.69,"u":24.24},{"b":"S","g":"S15","s":"Sdn","i":255,"t":25.15,"u":23.98},{"b":"S","g":"S15","s":"Sdn","i":260,"t":24.89,"u":24.03},
{"b":"S","g":"S16","s":"Smix","i":260,"t":24.89,"u":24.03},{"b":"S","g":"S16","s":"Smix","i":263,"t":24.83,"u":24.2},{"b":"S","g":"S16","s":"Smix","i":267,"t":25.26,"u":24.51},{"b":"S","g":"S16","s":"Smix","i":271,"t":25.58,"u":25.31},
{"b":"S","g":"S17","s":"Sup","i":271,"t":25.58,"u":25.31},{"b":"S","g":"S17","s":"Sup","i":275,"t":25.79,"u":25.58},{"b":"S","g":"S17","s":"Sup","i":280,"t":26.22,"u":25.9},{"b":"S","g":"S17","s":"Sup","i":285,"t":26.59,"u":26.17},{"b":"S","g":"S17","s":"Sup","i":289,"t":26.91,"u":26.48},{"b":"S","g":"S17","s":"Sup","i":293,"t":27.82,"u":27.02},{"b":"S","g":"S17","s":"Sup","i":297,"t":28.56,"u":27.92},{"b":"S","g":"S17","s":"Sup","i":302,"t":28.72,"u":28.24},
{"b":"S","g":"S18","s":"Smix","i":302,"t":28.72,"u":28.24},{"b":"S","g":"S18","s":"Smix","i":306,"t":28.56,"u":28.14},{"b":"S","g":"S18","s":"Smix","i":310,"t":28.45,"u":28.08},{"b":"S","g":"S18","s":"Smix","i":316,"t":28.61,"u":28.19},
{"b":"S","g":"S19","s":"Sup","i":316,"t":28.61,"u":28.19},{"b":"S","g":"S19","s":"Sup","i":320,"t":29.31,"u":28.62},{"b":"S","g":"S19","s":"Sup","i":325,"t":29.95,"u":29.2},{"b":"S","g":"S19","s":"Sup","i":330,"t":30.43,"u":29.79},{"b":"S","g":"S19","s":"Sup","i":335,"t":30.8,"u":30.27},{"b":"S","g":"S19","s":"Sup","i":338,"t":30.75,"u":30.16},
{"b":"S","g":"S20","s":"Smix","i":338,"t":30.75,"u":30.16},{"b":"S","g":"S20","s":"Smix","i":342,"t":30.27,"u":29.68},{"b":"S","g":"S20","s":"Smix","i":348,"t":30.11,"u":29.68},
{"b":"S","g":"S21","s":"Sup","i":348,"t":30.11,"u":29.68},{"b":"S","g":"S21","s":"Sup","i":351,"t":30.32,"u":30.0},{"b":"S","g":"S21","s":"Sup","i":354,"t":30.27,"u":29.95},
{"b":"S","g":"S22","s":"Smix","i":354,"t":30.27,"u":29.95},{"b":"S","g":"S22","s":"Smix","i":358,"t":30.11,"u":29.68},{"b":"S","g":"S22","s":"Smix","i":363,"t":29.95,"u":29.52}
],
"vma":[
{"i":0,"m":0.95},{"i":23,"m":0.95},{"i":26,"m":1.08},{"i":50,"m":1.15},{"i":72,"m":1.26},{"i":100,"m":1.26},{"i":112,"m":1.18},{"i":125,"m":1.08},{"i":140,"m":1.0},{"i":149,"m":0.95},{"i":152,"m":1.02},{"i":170,"m":1.05},{"i":182,"m":1.1},{"i":195,"m":1.2},{"i":205,"m":1.28},{"i":228,"m":1.25},{"i":240,"m":1.32},{"i":262,"m":1.45},{"i":276,"m":1.53},{"i":300,"m":1.52},{"i":310,"m":1.45},{"i":325,"m":1.4},{"i":338,"m":1.3},{"i":348,"m":1.2},{"i":363,"m":1.1}
]
},
"vconcat":[
{
"width":952,"height":456,
"title":{"text":"Technology One Limited Ordinary (TNE) - Daily","anchor":"start","frame":"group","offset":-16,"fontSize":13,"fontWeight":"bold","color":"#1a1a1a","font":"Liberation Sans","dx":2},
"layer":[
{"data":{"name":"bands"},"transform":[{"filter":"datum.b=='L'"}],"mark":{"type":"area","opacity":1},
"encoding":{
"x":{"field":"i","type":"quantitative","scale":{"domain":[-1.56,374.1],"nice":false,"zero":false},
"axis":{"orient":"bottom","title":null,"values":[10,31,50,72,92,115,136,158,181,201,222,242,262,284,304,325,346],"labelExpr":"['Mar','Apr','May','Jun','Jul','Aug','Sep','Oct','Nov','Dec','2026','Feb','Mar','Apr','May','Jun','Jul'][indexof([10,31,50,72,92,115,136,158,181,201,222,242,262,284,304,325,346],datum.value)]","tickSize":4,"labelAlign":"left","labelBaseline":"middle","labelPadding":4,"labelDx":1,"labelOverlap":false,"labelFlush":false,"labelBound":false}},
"y":{"field":"t","type":"quantitative","scale":{"domain":[19.82,44.07],"nice":false,"zero":false},
"axis":{"orient":"right","title":null,"tickCount":24,"values":[20,21,22,23,24,25,26,27,28,29,30,31,32,33,34,35,36,37,38,39,40,41,42,43],"tickSize":4,"labelAlign":"left","labelPadding":28,"labelOverlap":false,"labelFlush":false}},
"y2":{"field":"u"},
"color":{"field":"s","type":"nominal","scale":{"domain":["Lup","Lmix","Ldn","Sup","Smix","Sdn"],"range":["#3cb371","#ff6622","#ff8080","#00ff00","#ff6622","#ffb3b3"]},"legend":null},
"detail":{"field":"g"}}},
{"data":{"name":"bands"},"transform":[{"filter":"datum.b=='S'"}],"mark":{"type":"area","opacity":1},
"encoding":{
"x":{"field":"i","type":"quantitative"},
"y":{"field":"t","type":"quantitative"},
"y2":{"field":"u"},
"color":{"field":"s","type":"nominal","legend":null},
"detail":{"field":"g"}}},
{"data":{"name":"candles"},"mark":{"type":"rule","strokeWidth":1},
"encoding":{
"x":{"field":"i","type":"quantitative"},
"y":{"field":"l","type":"quantitative"},
"y2":{"field":"h"},
"color":{"condition":{"test":"datum.c>=datum.o","value":"#8a8a8a"},"value":"#000000"}}},
{"data":{"name":"candles"},"mark":{"type":"bar","size":2,"strokeWidth":0.8},
"encoding":{
"x":{"field":"i","type":"quantitative"},
"y":{"field":"o","type":"quantitative"},
"y2":{"field":"c"},
"fill":{"condition":{"test":"datum.c>=datum.o","value":"#ffffff"},"value":"#000000"},
"stroke":{"condition":{"test":"datum.c>=datum.o","value":"#8a8a8a"},"value":"#000000"}}}
]
},
{
"width":952,"height":90,
"title":{"text":"Volume","anchor":"start","frame":"group","offset":-15,"fontSize":11,"fontWeight":"bold","color":"#8383c4","font":"Liberation Sans","dx":6},
"layer":[
{"data":{"name":"candles"},"mark":{"type":"rule","strokeWidth":1.2,"color":"#8585d6"},
"encoding":{
"x":{"field":"i","type":"quantitative","scale":{"domain":[-1.56,374.1],"nice":false,"zero":false},"axis":{"orient":"top","title":null,"labels":false,"ticks":false,"domain":true}},
"y":{"field":"v","type":"quantitative","scale":{"domain":[0,8.85],"nice":false},"axis":{"orient":"right","title":null,"tickCount":4,"values":[2,4,6,8],"labelExpr":"datum.value+'M'","tickSize":4,"labelAlign":"left","labelPadding":26,"labelOverlap":false,"labelFlush":false}},
"y2":{"datum":0}}},
{"data":{"name":"vma"},"mark":{"type":"line","color":"#ff2020","strokeWidth":1.6},
"encoding":{
"x":{"field":"i","type":"quantitative"},
"y":{"field":"m","type":"quantitative"}}}
]
}
]
}
